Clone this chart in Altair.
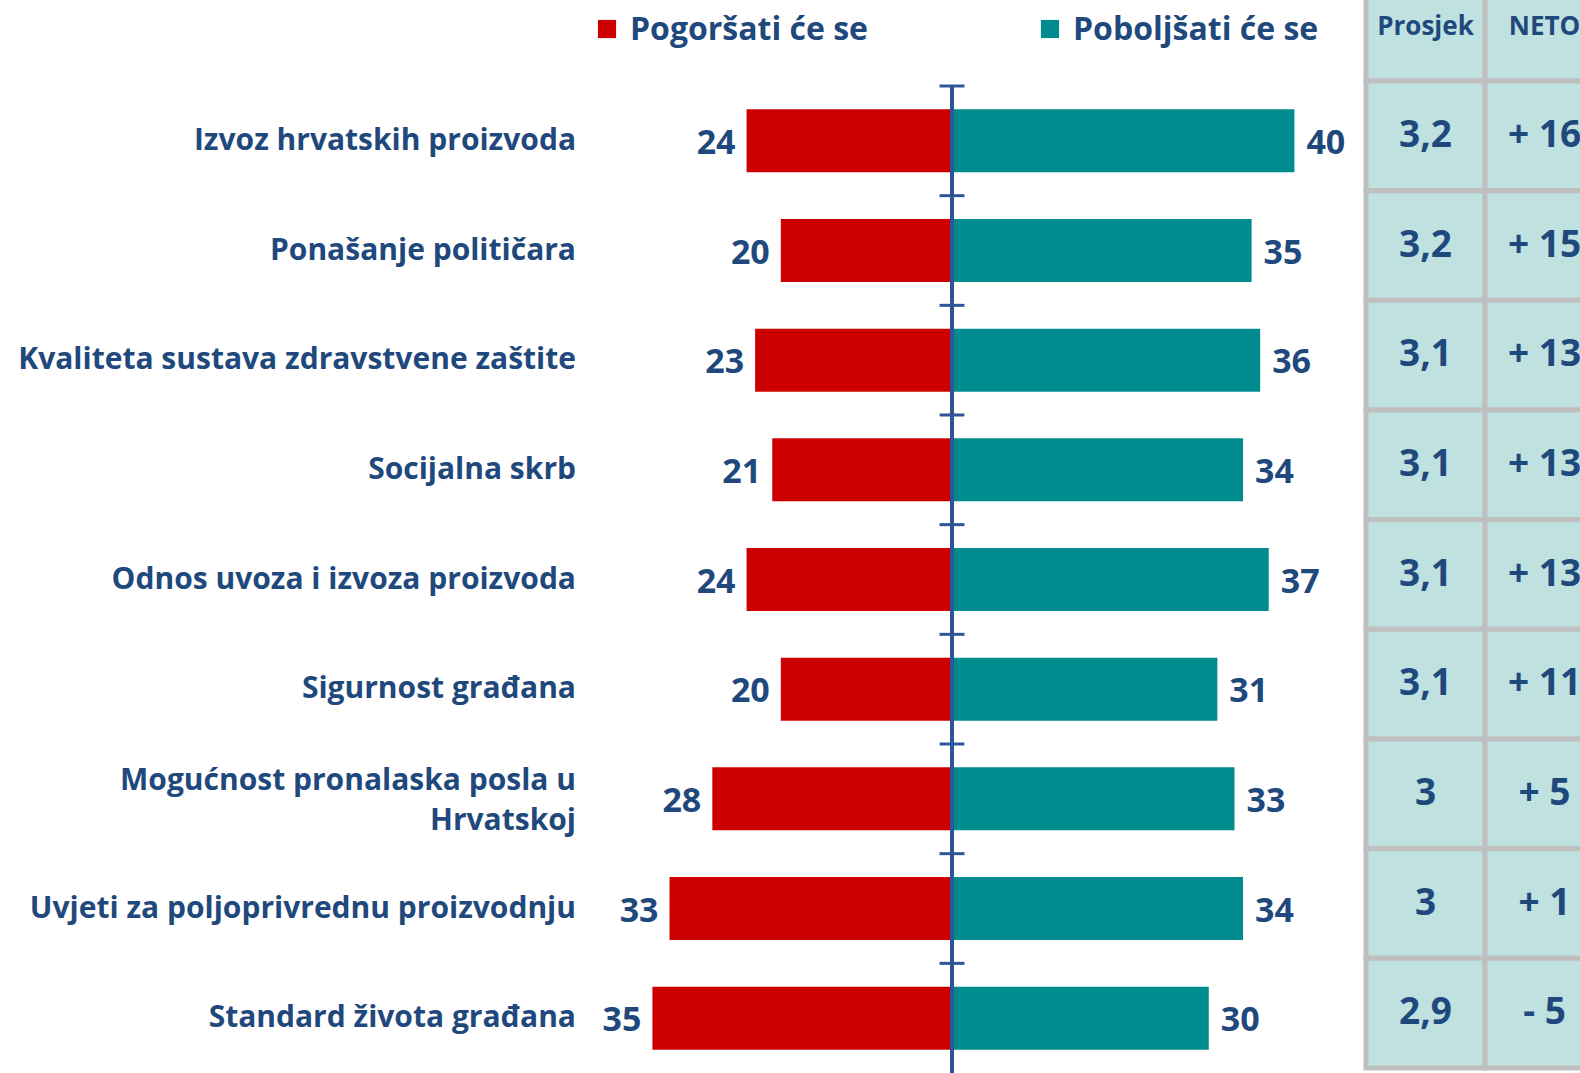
import altair as alt
import pandas as pd

# ---------------- data ----------------
categories = [
    "Izvoz hrvatskih proizvoda",
    "Ponašanje političara",
    "Kvaliteta sustava zdravstvene zaštite",
    "Socijalna skrb",
    "Odnos uvoza i izvoza proizvoda",
    "Sigurnost građana",
    "Mogućnost pronalaska posla u\nHrvatskoj",
    "Uvjeti za poljoprivrednu proizvodnju",
    "Standard života građana",
]
worse = [24, 20, 23, 21, 24, 20, 28, 33, 35]      # Pogoršati će se
better = [40, 35, 36, 34, 37, 31, 33, 34, 30]     # Poboljšati će se
prosjek = ["3,2", "3,2", "3,1", "3,1", "3,1", "3,1", "3", "3", "2,9"]
neto = ["+ 16", "+ 15", "+ 13", "+ 13", "+ 13", "+ 11", "+ 5", "+ 1", "- 5"]
series_names = ["Pogoršati će se", "Poboljšati će se"]
table_columns = ["Prosjek", "NETO"]

# ---------------- styles ----------------
RED = "#CC0000"
TEAL = "#008C8E"
TEXT = "#1F497D"
CELL = "#BFE1E0"
GRID = "#BFBFBF"
FONT = "Open Sans"

W, H = 980, 987          # plot area (origin at 600,86 in the page)
ZERO_PX = 352            # pixel position of the zero line
PPU = 8.56               # pixels per percentage point
x_scale = alt.Scale(domain=[-ZERO_PX / PPU, (W - ZERO_PX) / PPU], range=[0, W], nice=False, zero=False)
y_scale = alt.Scale(domain=categories, paddingInner=0, paddingOuter=0)

df = pd.DataFrame({
    "cat": categories,
    "worse": worse,
    "neg": [-v for v in worse],
    "better": better,
    "zero": [0] * len(categories),
    "nlines": [c.count("\n") + 1 for c in categories],
})

yenc = alt.Y("cat:N", scale=y_scale, axis=None, sort=categories)
base = alt.Chart(df)

bars_red = base.mark_bar(color=RED, height={"band": 0.575}).encode(
    y=yenc,
    x=alt.X("neg:Q", scale=x_scale, axis=None),
    x2="zero:Q",
)
bars_teal = base.mark_bar(color=TEAL, height={"band": 0.575}).encode(
    y=yenc,
    x=alt.X("zero:Q", scale=x_scale, axis=None),
    x2="better:Q",
)
lab_red = base.mark_text(align="right", baseline="middle", dx=-11, dy=3, font=FONT,
                         fontSize=34, fontWeight="bold", color=TEXT).encode(
    y=yenc, x=alt.X("neg:Q", scale=x_scale, axis=None), text="worse:Q")
lab_teal = base.mark_text(align="left", baseline="middle", dx=12, dy=3, font=FONT,
                          fontSize=34, fontWeight="bold", color=TEXT).encode(
    y=yenc, x=alt.X("better:Q", scale=x_scale, axis=None), text="better:Q")

cat_labels_1 = base.transform_filter("datum.nlines == 1").mark_text(
    align="right", baseline="middle", font=FONT, fontSize=30, dy=0,
    fontWeight="bold", color=TEXT).encode(
    y=yenc, x=alt.value(-24), text="cat:N")
cat_labels_2 = base.transform_filter("datum.nlines == 2").mark_text(
    align="right", baseline="middle", font=FONT, fontSize=30, dy=-18,
    fontWeight="bold", color=TEXT, lineBreak="\n", lineHeight=40).encode(
    y=yenc, x=alt.value(-24), text="cat:N")

axis_line = base.mark_rule(color="#2F5597", strokeWidth=3).encode(
    x=alt.X("zero:Q", scale=x_scale, axis=None), y=alt.value(0), y2=alt.value(H))
ticks = base.mark_rule(color="#2F5597", strokeWidth=3).encode(
    y=alt.Y("cat:N", scale=y_scale, axis=None, sort=categories, bandPosition=0),
    x=alt.X(datum=-1.45, scale=x_scale, axis=None),
    x2=alt.X2(datum=1.45),
)

# legend (custom, at the top)
leg_df = pd.DataFrame({"name": series_names, "color": [RED, TEAL]})
leg_sq_red = alt.Chart(leg_df.iloc[[0]]).mark_square(size=330, opacity=1, color=RED).encode(
    x=alt.value(7), y=alt.value(-57))
leg_tx_red = alt.Chart(leg_df.iloc[[0]]).mark_text(align="left", baseline="middle", font=FONT,
                                                   fontSize=32, fontWeight="bold", color=TEXT).encode(
    x=alt.value(30), y=alt.value(-56), text="name:N")
leg_sq_teal = alt.Chart(leg_df.iloc[[1]]).mark_square(size=330, opacity=1, color=TEAL).encode(
    x=alt.value(450), y=alt.value(-57))
leg_tx_teal = alt.Chart(leg_df.iloc[[1]]).mark_text(align="left", baseline="middle", font=FONT,
                                                    fontSize=32, fontWeight="bold", color=TEXT).encode(
    x=alt.value(473), y=alt.value(-56), text="name:N")

# table on the right
tdf = pd.DataFrame({
    "cat": categories * 2,
    "col": [table_columns[0]] * len(categories) + [table_columns[1]] * len(categories),
    "val": prosjek + neto,
})
hdf = pd.DataFrame({"col": table_columns})
tx_scale = alt.Scale(domain=table_columns, range=[766, 1004], paddingInner=0, paddingOuter=0)
txenc = alt.X("col:N", scale=tx_scale, axis=None)

cells = alt.Chart(tdf).mark_rect(fill=CELL, stroke=GRID, strokeWidth=5, yOffset=-5, y2Offset=-5).encode(
    x=txenc, y=yenc)
cell_text = alt.Chart(tdf).mark_text(baseline="middle", font=FONT, fontSize=37, fontWeight="bold",
                                     color=TEXT, dy=-5).encode(
    x=alt.X("col:N", scale=tx_scale, axis=None, bandPosition=0.5), y=yenc, text="val:N")
head_cells = alt.Chart(hdf).mark_rect(fill=CELL, stroke=GRID, strokeWidth=5).encode(
    x=txenc, y=alt.value(-100), y2=alt.value(-5))
head_text = alt.Chart(hdf).mark_text(baseline="middle", font=FONT, fontSize=26, fontWeight="bold",
                                     color=TEXT).encode(
    x=alt.X("col:N", scale=tx_scale, axis=None, bandPosition=0.5), y=alt.value(-59), text="col:N")

chart = alt.layer(
    head_cells, cells, cell_text, head_text,
    bars_red, bars_teal, axis_line, ticks, lab_red, lab_teal, cat_labels_1, cat_labels_2,
    leg_sq_red, leg_tx_red, leg_sq_teal, leg_tx_teal,
).resolve_scale(x="independent").properties(
    width=W, height=H,
    padding={"left": 600, "top": 86, "right": 0, "bottom": 0},
    autosize=alt.AutoSizeParams(type="none"),
    background="white",
).configure_view(stroke=None)

chart.save("out.html", embed_options={"renderer": "svg", "actions": False})
